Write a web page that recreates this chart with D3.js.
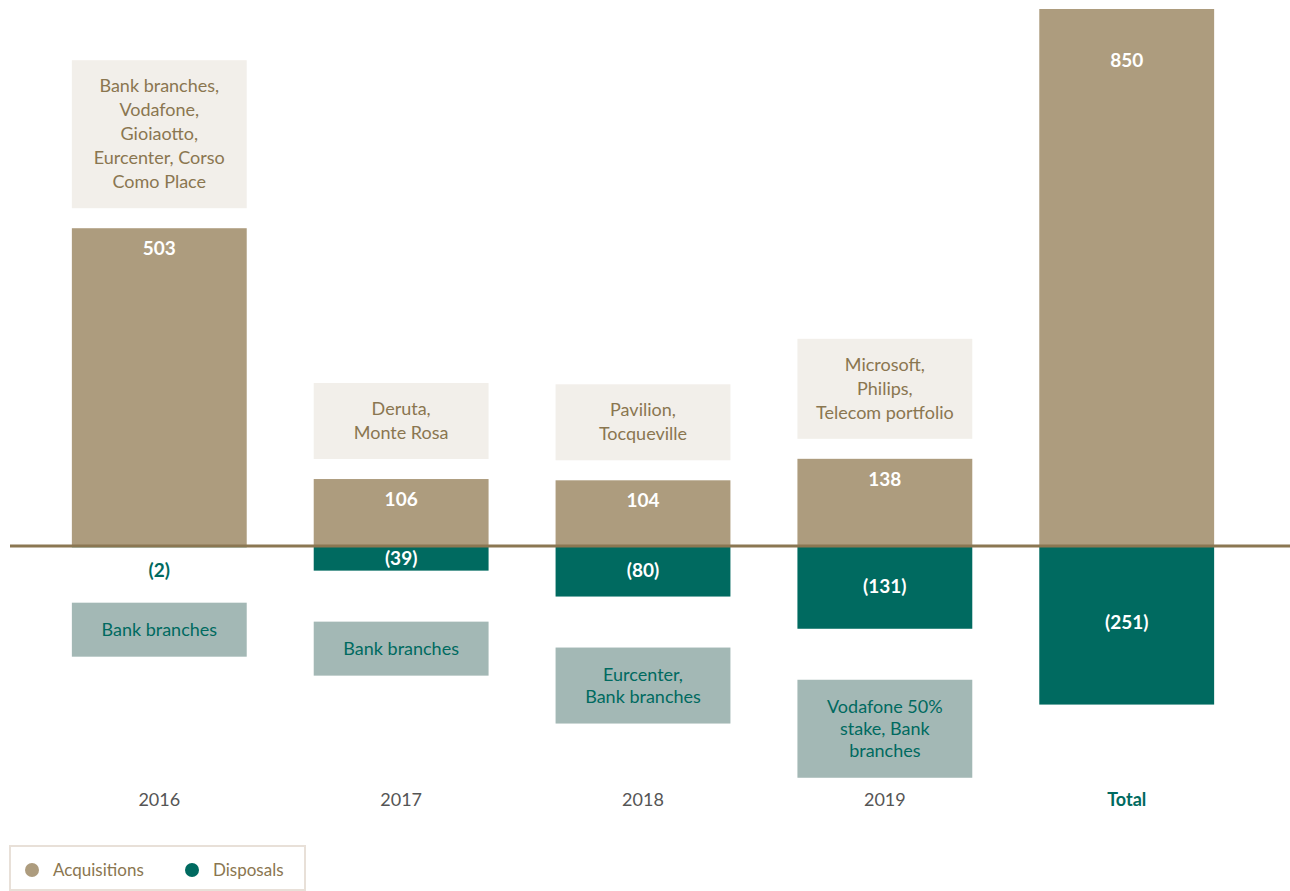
<!DOCTYPE html>
<html>
<head>
<meta charset="utf-8">
<script src="https://cdn.jsdelivr.net/npm/d3@7"></script>
<style>
  html, body { margin: 0; padding: 0; background: #fff; }
  svg text { font-family: "Lato", "Noto Sans", sans-serif; }
</style>
</head>
<body>
<svg id="chart" width="1290" height="891"></svg>
<script>
(function () {
  'use strict';

  // --- data ---
  var categories = ['2016', '2017', '2018', '2019', 'Total'];
  var acquisitions = [503, 106, 104, 138, 850];
  var disposals = [-2, -39, -80, -131, -251];
  var acqNotes = [
    ['Bank branches,', 'Vodafone,', 'Gioiaotto,', 'Eurcenter, Corso', 'Como Place'],
    ['Deruta,', 'Monte Rosa'],
    ['Pavilion,', 'Tocqueville'],
    ['Microsoft,', 'Philips,', 'Telecom portfolio'],
    null
  ];
  var dispNotes = [
    ['Bank branches'],
    ['Bank branches'],
    ['Eurcenter,', 'Bank branches'],
    ['Vodafone 50%', 'stake, Bank', 'branches'],
    null
  ];
  var legendItems = ['Acquisitions', 'Disposals'];

  var C_ACQ = '#ad9c7e', C_DISP = '#006a60';
  var C_ACQ_BOX = '#f2efea', C_DISP_BOX = '#a3b8b5';
  var C_BROWN_TEXT = '#8a7650', C_AXIS = '#8b7752';

  var svg = d3.select('#chart');

  var x = d3.scaleBand().domain(categories).range([38, 1248])
    .paddingInner(0.277).paddingOuter(0.14);
  var y = d3.scaleLinear().domain([0, 850]).range([546, 9]);
  var bw = x.bandwidth();
  var lineH = 24;

  var g = svg.append('g');

  // acquisition note boxes
  categories.forEach(function (c, i) {
    var lines = acqNotes[i];
    if (!lines) return;
    var h = lines.length * lineH + 28;
    var bottom = y(acquisitions[i]) - 20;
    g.append('rect')
      .attr('x', x(c)).attr('y', bottom - h)
      .attr('width', bw).attr('height', h)
      .attr('fill', C_ACQ_BOX);
    var t = g.append('text')
      .attr('text-anchor', 'middle')
      .attr('fill', C_BROWN_TEXT)
      .attr('font-size', '18px');
    lines.forEach(function (l, k) {
      t.append('tspan')
        .attr('x', x(c) + bw / 2)
        .attr('y', bottom - h + 14 + lineH * k + 18)
        .text(l);
    });
  });

  // disposal note boxes
  categories.forEach(function (c, i) {
    var lines = dispNotes[i];
    if (!lines) return;
    var h = lines.length * 22 + 32;
    var top = Math.max(y(disposals[i]), y(-9)) + 51;
    g.append('rect')
      .attr('x', x(c)).attr('y', top)
      .attr('width', bw).attr('height', h)
      .attr('fill', C_DISP_BOX);
    var t = g.append('text')
      .attr('text-anchor', 'middle')
      .attr('fill', C_DISP)
      .attr('font-size', '18px');
    lines.forEach(function (l, k) {
      t.append('tspan')
        .attr('x', x(c) + bw / 2)
        .attr('y', top + 15 + 22 * k + 18)
        .text(l);
    });
  });

  // acquisition bars
  g.selectAll('rect.acq')
    .data(acquisitions)
    .join('rect')
    .attr('class', 'acq')
    .attr('x', function (d, i) { return x(categories[i]); })
    .attr('y', function (d) { return y(d); })
    .attr('width', bw)
    .attr('height', function (d) { return y(0) - y(d); })
    .attr('fill', C_ACQ);

  // disposal bars
  g.selectAll('rect.disp')
    .data(disposals)
    .join('rect')
    .attr('class', 'disp')
    .attr('x', function (d, i) { return x(categories[i]); })
    .attr('y', y(0))
    .attr('width', bw)
    .attr('height', function (d) { return y(d) - y(0); })
    .attr('fill', C_DISP);

  // acquisition value labels
  g.selectAll('text.acqv')
    .data(acquisitions)
    .join('text')
    .attr('class', 'acqv')
    .attr('x', function (d, i) { return x(categories[i]) + bw / 2; })
    .attr('y', function (d, i) { return y(d) + (categories[i] === 'Total' ? 58 : 27); })
    .attr('text-anchor', 'middle')
    .attr('fill', '#fff')
    .attr('font-size', '19px')
    .attr('font-weight', 'bold')
    .text(function (d) { return d; });

  // disposal value labels
  g.selectAll('text.dispv')
    .data(disposals)
    .join('text')
    .attr('class', 'dispv')
    .attr('x', function (d, i) { return x(categories[i]) + bw / 2; })
    .attr('y', function (d) {
      var hgt = y(d) - y(0);
      if (hgt < 15) return y(0) + 31;
      return y(0) + hgt * 0.48 + 7;
    })
    .attr('text-anchor', 'middle')
    .attr('fill', function (d) { return (y(d) - y(0)) < 15 ? C_DISP : '#fff'; })
    .attr('font-size', '19px')
    .attr('font-weight', 'bold')
    .text(function (d) { return '(' + Math.abs(d) + ')'; });

  // zero line
  g.append('line')
    .attr('x1', 10).attr('x2', 1290)
    .attr('y1', y(0)).attr('y2', y(0))
    .attr('stroke', C_AXIS)
    .attr('stroke-width', 3);

  // category labels
  g.selectAll('text.cat')
    .data(categories)
    .join('text')
    .attr('class', 'cat')
    .attr('x', function (d) { return x(d) + bw / 2; })
    .attr('y', 806)
    .attr('text-anchor', 'middle')
    .attr('font-size', '18px')
    .attr('fill', function (d) { return d === 'Total' ? C_DISP : '#555'; })
    .attr('font-weight', function (d) { return d === 'Total' ? 'bold' : 'normal'; })
    .text(function (d) { return d; });

  // legend
  var lg = svg.append('g');
  lg.append('rect')
    .attr('x', 10).attr('y', 846)
    .attr('width', 295).attr('height', 44)
    .attr('fill', 'none')
    .attr('stroke', '#e8e0d8')
    .attr('stroke-width', 2);
  var legendX = [32, 192];
  var legendC = [C_ACQ, C_DISP];
  legendItems.forEach(function (name, i) {
    lg.append('circle')
      .attr('cx', legendX[i]).attr('cy', 870).attr('r', 7)
      .attr('fill', legendC[i]);
    lg.append('text')
      .attr('x', legendX[i] + 21).attr('y', 876)
      .attr('font-size', '17px')
      .attr('fill', C_BROWN_TEXT)
      .text(name);
  });
})();
</script>
</body>
</html>
